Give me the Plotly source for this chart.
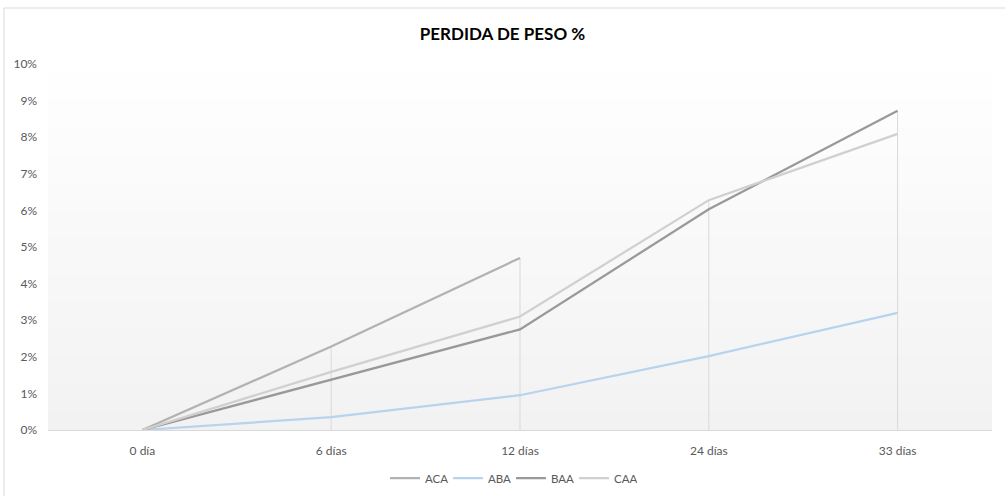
import plotly.graph_objects as go

categories = ["0 día", "6 días", "12 días", "24 días", "33 días"]
ACA = [0.0, 2.28, 4.70, None, None]
ABA = [0.0, 0.35, 0.95, 2.02, 3.20]
BAA = [0.0, 1.38, 2.75, 6.03, 8.72]
CAA = [0.0, 1.59, 3.10, 6.28, 8.09]
y_ticks = [0, 1, 2, 3, 4, 5, 6, 7, 8, 9, 10]
y_tick_labels = [f"{v}%" for v in y_ticks]

series = [("ACA", ACA, "#b2b2b2"), ("ABA", ABA, "#b8d3ee"),
          ("BAA", BAA, "#999999"), ("CAA", CAA, "#d0d0d0")]

fig = go.Figure()

# gradient background bands
n = 40
for i in range(n):
    t = i / n
    c = int(round(242 + (255 - 242) * t))
    fig.add_shape(type="rect", xref="x domain", yref="y domain",
                  x0=0, x1=1, y0=t, y1=(i + 1) / n + 0.002,
                  fillcolor=f"rgb({c},{c},{c})", line_width=0, layer="below")

# drop lines from max value at each category
dx, dy = [], []
for i, cat in enumerate(categories):
    vals = [s[1][i] for s in series if s[1][i] is not None]
    m = max(vals)
    if m > 0:
        dx += [cat, cat, None]
        dy += [0, m, None]
fig.add_trace(go.Scatter(x=dx, y=dy, mode="lines", line=dict(color="#d9d9d9", width=1),
                         showlegend=False, hoverinfo="skip"))

for name, vals, col in series:
    fig.add_trace(go.Scatter(x=categories, y=vals, mode="lines", name=name,
                             line=dict(color=col, width=2.25)))

# outer border (top and left)
L, R, T, B = 48, 13, 64, 66
W, H = 1005, 496
pw, ph = W - L - R, H - T - B
def px(x): return (x - L) / pw
def py(y): return (H - B - y) / ph
fig.add_shape(type="line", xref="paper", yref="paper", x0=px(4), x1=px(1005), y0=py(8), y1=py(8),
              line=dict(color="#d9d9d9", width=1))
fig.add_shape(type="line", xref="paper", yref="paper", x0=px(4), x1=px(4), y0=py(8), y1=py(496),
              line=dict(color="#d9d9d9", width=1))

fig.update_layout(
    width=W, height=H,
    margin=dict(l=L, r=R, t=T, b=B, autoexpand=False),
    paper_bgcolor="white", plot_bgcolor="white",
    title=dict(text="<b>PERDIDA DE PESO %</b>", x=0.5, xanchor="center", y=1 - 34 / H, yanchor="middle",
               font=dict(family="Lato", size=17, color="#000000")),
    font=dict(family="Lato", size=12, color="#595959"),
    xaxis=dict(type="category", categoryorder="array", categoryarray=categories,
               range=[-0.5, 4.5], showgrid=False, showline=True, linecolor="#d9d9d9",
               linewidth=1, ticks="", zeroline=False, ticklabelstandoff=10,
               tickfont=dict(size=12, color="#595959")),
    yaxis=dict(range=[0, 10], tickvals=y_ticks, ticktext=y_tick_labels, showgrid=False,
               showline=False, zeroline=False, ticks="", ticklabelstandoff=10,
               tickfont=dict(size=12, color="#595959")),
    legend=dict(orientation="h", x=px(511), xanchor="center", y=py(478), yanchor="middle",
                font=dict(size=11.5, color="#595959"), bgcolor="rgba(0,0,0,0)",
                itemwidth=30, tracegroupgap=0, entrywidth=18, entrywidthmode="pixels"),
    showlegend=True,
)

fig.write_html("out.html", post_script="document.body.style.margin='0';",
               config={"displayModeBar": False})
